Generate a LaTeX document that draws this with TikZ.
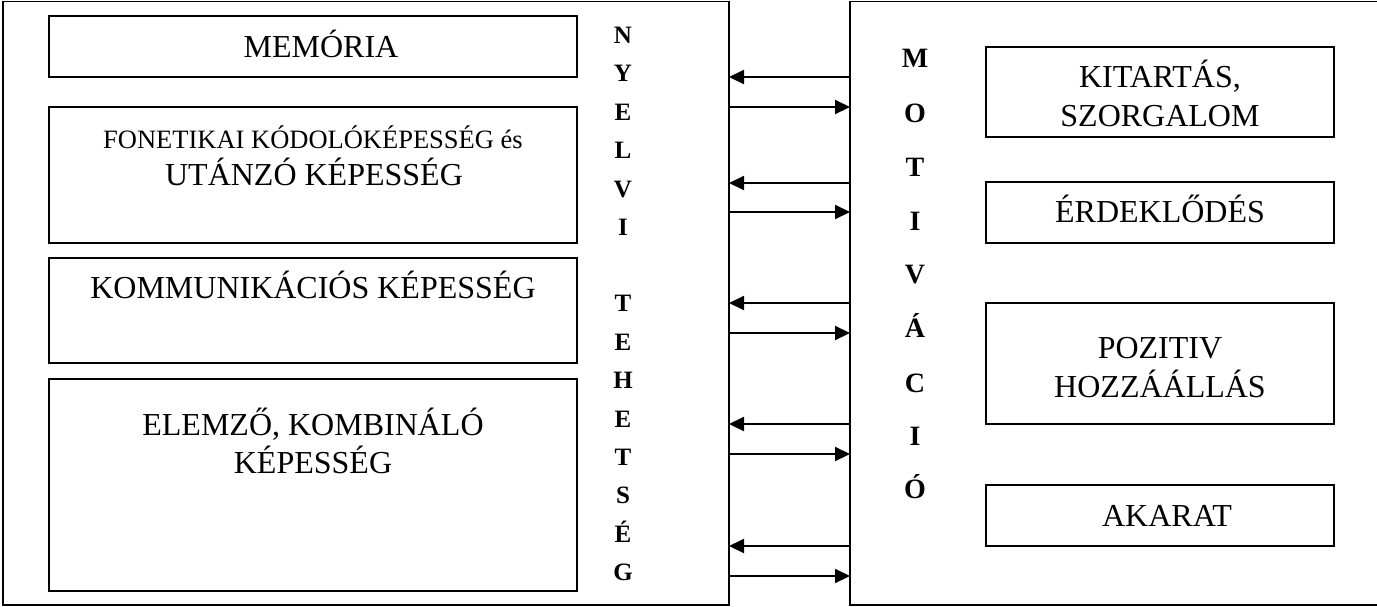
\documentclass[tikz,border=0pt]{standalone}
\usepackage{fontspec}
\setmainfont{Liberation Serif}
\usetikzlibrary{arrows.meta}

\begin{document}
\begin{tikzpicture}[x=1pt,y=-1pt,
  frame/.style={draw, line width=1.4pt, inner sep=0pt, outer sep=0pt, anchor=north west},
  box/.style={draw, line width=2pt, inner sep=0pt, outer sep=0pt, anchor=north west},
  big/.style={font=\fontsize{32}{38}\selectfont, anchor=base, inner sep=0pt},
  small/.style={font=\fontsize{26.5}{30}\selectfont, anchor=base, inner sep=0pt},
  vlang/.style={font=\fontsize{25}{28}\selectfont\bfseries, anchor=base, inner sep=0pt},
  vmot/.style={font=\fontsize{28}{32}\selectfont\bfseries, anchor=base, inner sep=0pt},
  arr/.style={-{Triangle[length=15pt,width=14pt]}, line width=2.1pt}
]
\useasboundingbox (0,0) rectangle (1377,606);
\clip (0,0) rectangle (1377,606);

% the two outer frames
\node[frame, minimum width=726pt, minimum height=603.5pt] (lang) at (3,1.5) {};
\node[frame, minimum width=540pt, minimum height=603.5pt] (motiv) at (850,1.5) {};

% abilities on the left
\node[box, minimum width=528pt, minimum height=61pt]  (mem)  at (49,16)  {};
\node[box, minimum width=528pt, minimum height=136pt] (fon)  at (49,107) {};
\node[box, minimum width=528pt, minimum height=105pt] (komm) at (49,258) {};
\node[box, minimum width=528pt, minimum height=212pt] (elem) at (49,379) {};

\node[big]   (memT)  at (321,57)  {MEMÓRIA};
\node[small] (fonT1) at (313,148) {FONETIKAI KÓDOLÓKÉPESSÉG és};
\node[big]   (fonT2) at (314,185) {UTÁNZÓ KÉPESSÉG};
\node[big]   (kommT) at (313,298) {KOMMUNIKÁCIÓS KÉPESSÉG};
\node[big]   (elemT1) at (313,435) {ELEMZŐ, KOMBINÁLÓ};
\node[big]   (elemT2) at (313,473) {KÉPESSÉG};

% motivation factors on the right
\node[box, minimum width=348pt, minimum height=90pt]  (kit) at (986,47)  {};
\node[box, minimum width=348pt, minimum height=61pt]  (erd) at (986,182) {};
\node[box, minimum width=348pt, minimum height=121pt] (poz) at (986,303) {};
\node[box, minimum width=348pt, minimum height=61pt]  (aka) at (986,485) {};

\node[big] (kitT1) at (1160,87)  {KITARTÁS,};
\node[big] (kitT2) at (1160,126) {SZORGALOM};
\node[big] (erdT)  at (1160,222) {ÉRDEKLŐDÉS};
\node[big] (pozT1) at (1160,358) {POZITIV};
\node[big] (pozT2) at (1160,397) {HOZZÁÁLLÁS};
\node[big] (akaT)  at (1167,526) {AKARAT};

% vertical captions
\foreach \c/\yy [count=\i] in {N/43,Y/81.5,E/120,L/158.5,V/197,I/235,T/311,E/350,H/388,E/427,T/465,S/503,É/542,G/580}
  \node[vlang] (nyl\i) at (623,\yy) {\c};
\foreach \c/\yy [count=\i] in {M/67,O/122,T/176,I/230,V/283,Á/337,C/392,I/445,Ó/498}
  \node[vmot] (mot\i) at (915,\yy) {\c};

% arrows between the two frames
\foreach \ya/\yb in {77/107,183/212,303/333,424/454,546/576}{
  \draw[arr] (motiv.west |- 0,\ya) -- (lang.east |- 0,\ya);
  \draw[arr] (lang.east |- 0,\yb) -- (motiv.west |- 0,\yb);
}
\end{tikzpicture}
\end{document}
